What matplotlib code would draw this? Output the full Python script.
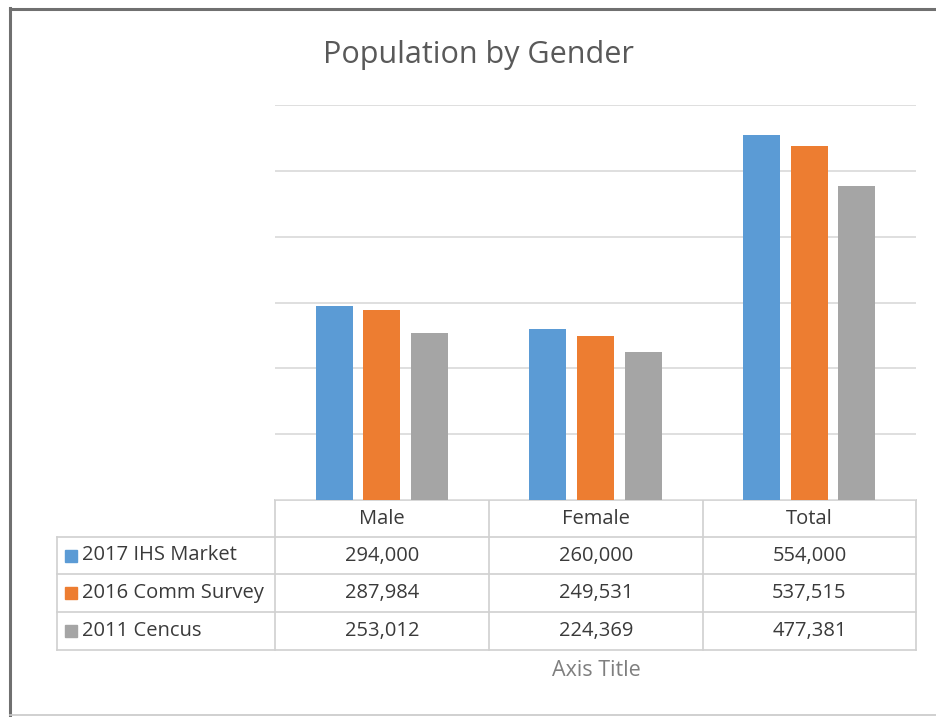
import matplotlib.pyplot as plt
from matplotlib.lines import Line2D
from matplotlib.patches import Rectangle

categories = ["Male", "Female", "Total"]
series_names = ["2017 IHS Market", "2016 Comm Survey", "2011 Cencus"]
ihs_2017 = [294000, 260000, 554000]
comm_2016 = [287984, 249531, 537515]
census_2011 = [253012, 224369, 477381]
series_values = [ihs_2017, comm_2016, census_2011]
colors = ["#5B9BD5", "#ED7D31", "#A5A5A5"]

W, H = 937, 717
fig = plt.figure(figsize=(W / 100, H / 100), dpi=100)
plt.rcParams["font.family"] = ["Open Sans", "DejaVu Sans"]

def fx(px):
    return px / W

def fy(py):
    return 1 - py / H

# outer chart frame
frame = fig.add_axes([0, 0, 1, 1])
frame.set_xlim(0, W)
frame.set_ylim(H, 0)
frame.axis("off")
frame.add_line(Line2D([10, 10], [8, 716], color="#707070", lw=2.2))
frame.add_line(Line2D([10, W], [9, 9], color="#707070", lw=2.2))
frame.add_line(Line2D([10, W], [715, 715], color="#c8c8c8", lw=1.2))

# plot area
left, right, top, bottom = 275, 916, 105, 500
ax = fig.add_axes([fx(left), fy(bottom), fx(right - left), (bottom - top) / H])
ax.set_xlim(-0.5, len(categories) - 0.5)
ax.set_ylim(0, 600000)
ax.set_yticks(range(0, 600001, 100000))
ax.set_xticks([])
ax.tick_params(left=False, labelleft=False)
ax.yaxis.grid(True, color="#dcdcdc", lw=1.3)
ax.set_axisbelow(True)
for s in ax.spines.values():
    s.set_visible(False)

bar_w = 0.173
step = 0.223
for i, (vals, c) in enumerate(zip(series_values, colors)):
    xs = [k + 1 + (i - 1) * step - 1 for k in range(len(categories))]
    ax.bar(xs, vals, width=bar_w, color=c, zorder=3)

fig.text(fx(478), fy(55), "Population by Gender", ha="center", va="center",
         fontsize=22, color="#595959")

# data table beneath the plot area
tcol = "#d0d0d0"
col_edges = [275, 489, 703, 916]
row_edges = [500, 537, 574, 612, 650]
leg_left = 57
frame.add_line(Line2D([275, 916], [500, 500], color=tcol, lw=1.2))
for r in row_edges[1:]:
    frame.add_line(Line2D([leg_left, 916], [r, r], color=tcol, lw=1.2))
for cx in col_edges:
    frame.add_line(Line2D([cx, cx], [500, 650], color=tcol, lw=1.2))
frame.add_line(Line2D([leg_left, leg_left], [537, 650], color=tcol, lw=1.2))

fs = 14.5
txt_kw = dict(fontsize=fs, color="#3a3a3a", ha="center", va="center")
for j, cat in enumerate(categories):
    cx = (col_edges[j] + col_edges[j + 1]) / 2
    frame.text(cx, (row_edges[0] + row_edges[1]) / 2 + 1, cat, **txt_kw)
for i, (name, vals, c) in enumerate(zip(series_names, series_values, colors)):
    cy = (row_edges[i + 1] + row_edges[i + 2]) / 2
    frame.add_patch(Rectangle((65, cy - 6), 12, 12, color=c))
    frame.text(82, cy, name, fontsize=fs, color="#3a3a3a", ha="left", va="center")
    for j, v in enumerate(vals):
        cx = (col_edges[j] + col_edges[j + 1]) / 2
        frame.text(cx, cy, f"{v:,}", **txt_kw)

frame.text(596, 670, "Axis Title", fontsize=15.5, color="#7f7f7f", ha="center", va="center")

fig.savefig("out.png", dpi=100, facecolor="white")
